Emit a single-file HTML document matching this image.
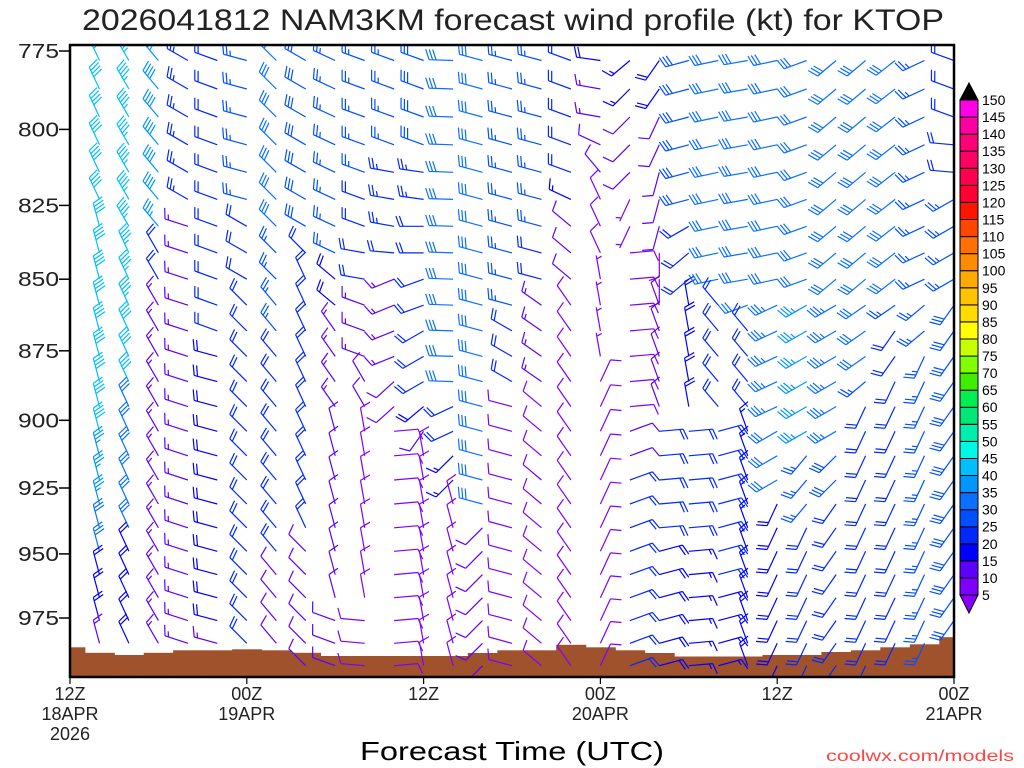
<!DOCTYPE html>
<html><head><meta charset="utf-8"><title>NAM3KM wind profile KTOP</title>
<style>
html,body{margin:0;padding:0;background:#fff;}
svg{display:block;font-family:"Liberation Sans",sans-serif;}
</style></head>
<body>
<svg id="chart" width="1024" height="768" viewBox="0 0 1024 768" xmlns="http://www.w3.org/2000/svg">
<defs><clipPath id="plotclip"><rect x="70" y="45" width="884" height="632"/></clipPath></defs>
<text x="82" y="30" font-size="30" textLength="862" lengthAdjust="spacingAndGlyphs" fill="#222">2026041812 NAM3KM forecast wind profile (kt) for KTOP</text>
<g id="ground" clip-path="url(#plotclip)"></g>
<g id="barbs" clip-path="url(#plotclip)"></g>
<rect x="70" y="45" width="884" height="632" fill="none" stroke="#000" stroke-width="2.5"/>
<g id="yaxis"></g>
<g id="xaxis"></g>
<text x="360" y="760" font-size="26" textLength="304" lengthAdjust="spacingAndGlyphs" fill="#000">Forecast Time (UTC)</text>
<text x="826" y="761" font-size="16" textLength="188" lengthAdjust="spacingAndGlyphs" fill="#ff4444">coolwx.com/models</text>
<g id="colorbar"></g>
</svg>
<script>
// forecast hours (every 2h from 12Z 18APR)
const times = [0,2,4,6,8,10,12,14,16,18,20,22,24,26,28,30,32,34,36,38,40,42,44,46,48,50,52,54,56,58,60];
const levels = [778,787,796,805,814,823,832,841,850,859,868,877,886,895,904,913,922,931,940,949,958,967,976,985,994];
const pressureTicks = [775,800,825,850,875,900,925,950,975];
const timeTickHours = [0,12,24,36,48,60];
const timeTickLabels = [["12Z","18APR","2026"],["00Z","19APR"],["12Z"],["00Z","20APR"],["12Z"],["00Z","21APR"]];
const surfacePressure = [986.6,988.8,989.7,988.8,987.8,987.8,987.4,987.8,988.8,990.1,990.1,990.1,990.1,990.1,988.9,987.8,987.8,985.6,986.6,987.8,988.9,990.3,990.3,990.3,989.7,989.7,988.5,987.8,986.6,985.4,982.6];
const colorLevels = [5,10,15,20,25,30,35,40,45,50,55,60,65,70,75,80,85,90,95,100,105,110,115,120,125,130,135,140,145,150];
const colorFills = ["#7f00ff","#5f00ff","#0000ff","#0028ff","#0050ff","#0a70ff","#0096ff","#00bfff","#00f8e6","#00eeb0","#00e87a","#00ee50","#40ee00","#80ff00","#c8ff00","#ffff00","#ffdc00","#ffc400","#ffaa00","#ff8c00","#ff7000","#ff4600","#ff1400","#ff0032","#ff0050","#ff0064","#ff0078","#ff00a0","#ff00e6"];

// wind direction (deg) per column (time), rows top->bottom by level
const windDir = [
[330,330,330,330,330,330,330,330,330,330,330,330,330,330,330,330,330,330,330,330,330,330,330,330,330],
[335,335,335,335,335,335,345,345,345,345,345,345,345,345,345,345,345,345,345,345,345,345,345,345,345],
[330,330,330,330,330,330,330,335,335,335,335,335,335,335,335,335,335,335,335,335,335,335,335,335,335],
[320,320,320,320,320,320,320,330,330,330,330,330,330,330,330,330,330,330,330,330,330,330,330,330,330],
[300,300,300,300,300,300,288,288,288,288,288,288,288,288,288,288,288,288,288,288,288,288,288,288,288],
[290,290,290,290,290,290,290,290,290,290,290,285,285,285,285,285,285,285,285,285,285,285,285,285,285],
[285,285,285,285,285,285,300,300,300,315,315,315,315,315,315,315,315,315,315,315,315,315,315,315,315],
[315,315,315,315,315,315,315,315,315,320,320,320,320,320,320,320,320,320,320,320,320,320,320,320,320],
[300,300,300,300,300,300,300,315,335,335,335,335,335,335,335,335,335,335,335,315,315,315,315,315,315],
[295,295,295,295,295,295,295,295,310,310,325,325,325,325,345,345,345,345,345,345,345,345,290,290,290],
[290,290,290,290,290,290,290,280,280,290,290,290,330,330,350,350,350,350,350,350,350,350,275,275,275],
[290,290,290,290,280,280,280,275,248,248,248,248,228,228,85,85,85,85,85,85,85,85,85,85,85],
[290,290,290,290,278,278,270,270,250,250,240,240,240,230,215,350,350,350,350,350,350,350,350,350,350],
[272,272,272,272,272,272,272,272,272,272,272,272,272,245,245,225,225,345,345,345,345,345,345,345,345],
[285,285,285,285,285,285,285,285,285,285,285,285,285,285,285,285,285,285,225,225,225,225,225,225,225],
[285,285,285,285,285,285,285,285,285,285,300,300,300,285,285,285,285,285,285,285,285,285,285,285,285],
[285,285,285,285,285,285,285,285,285,305,305,305,305,310,310,310,310,310,310,310,310,310,310,310,310],
[290,290,290,290,290,295,310,310,310,325,325,325,325,325,325,325,325,325,325,325,325,325,325,325,325],
[278,280,280,295,320,335,335,335,350,350,350,350,25,25,25,25,25,25,25,25,25,25,25,25,25],
[230,225,225,225,225,205,205,85,85,85,85,85,85,85,70,70,70,70,70,70,70,70,70,70,70],
[215,215,205,205,195,195,195,180,180,340,340,340,340,340,85,85,85,85,85,75,75,75,75,75,75],
[255,255,255,255,255,255,240,230,230,350,350,350,350,350,85,85,85,85,85,85,85,85,85,85,85],
[258,258,258,258,258,258,258,258,258,320,320,320,320,320,75,75,75,75,75,75,75,75,75,75,75],
[260,260,260,260,260,260,260,260,260,250,320,320,320,320,340,340,340,340,340,340,340,340,340,340,340],
[258,258,258,258,258,258,258,258,258,245,245,245,245,245,240,240,240,205,205,205,205,205,205,205,205],
[250,250,250,250,250,250,250,250,250,240,240,240,240,240,240,220,220,220,205,205,205,205,205,205,205],
[230,230,230,230,230,230,230,230,230,240,240,240,240,240,240,225,225,215,215,215,215,215,215,215,215],
[230,230,230,230,230,230,230,230,230,235,235,235,230,205,205,205,205,205,205,205,205,205,205,205,205],
[232,232,232,232,232,232,232,232,232,235,215,215,205,205,205,205,205,205,205,205,205,205,205,205,205],
[245,245,245,245,245,245,245,245,245,230,230,205,205,205,205,205,205,205,205,205,205,205,205,205,205],
[290,290,290,275,275,240,240,240,240,215,215,215,215,215,215,215,215,215,215,215,215,215,215,215,215]
];
// wind speed (kt)
const windSpd = [
[42,42,42,42,42,42,42,42,42,42,42,42,42,42,36,36,36,36,36,30,30,30,20,20,20],
[42,42,42,42,42,42,42,42,42,42,42,42,42,42,42,36,36,36,30,30,18,18,18,14,14],
[44,44,44,44,44,44,44,44,44,44,40,40,40,32,32,32,32,32,32,18,18,18,18,18,18],
[38,38,38,38,38,38,35,22,22,14,14,14,14,14,14,14,14,14,14,14,14,14,14,14,14],
[24,24,24,24,24,24,14,14,14,14,14,14,14,14,14,14,14,14,14,14,14,14,14,14,14],
[22,22,22,22,22,22,22,22,22,22,22,19,19,19,19,19,19,19,19,19,19,19,19,14,14],
[26,26,26,26,26,26,22,22,22,22,22,22,22,22,22,22,22,22,22,22,22,22,22,22,22],
[31,31,31,31,31,31,31,26,26,26,26,22,22,22,22,22,22,22,22,22,12,12,12,12,12],
[28,28,28,28,28,28,28,20,20,20,20,20,20,20,20,20,20,20,20,10,10,10,10,10,10],
[26,26,26,26,26,26,26,26,18,18,14,14,14,14,10,10,10,10,10,10,10,10,10,10,10],
[26,26,26,26,26,22,22,20,20,14,14,14,10,10,8,8,8,8,8,8,8,8,8,8,8],
[26,26,26,26,24,24,24,20,14,14,14,14,10,10,8,8,8,8,8,8,8,8,8,8,8],
[28,28,28,28,24,24,22,22,20,20,20,20,20,18,10,8,8,8,8,8,8,8,8,8,8],
[32,32,32,32,32,32,32,32,32,32,32,32,32,22,22,15,15,8,8,8,8,8,8,8,8],
[32,32,32,32,32,32,32,32,32,32,32,32,32,32,32,32,32,32,10,10,10,10,10,10,10],
[27,27,27,27,27,27,27,27,27,27,20,20,20,8,8,8,8,8,8,8,8,8,8,8,8],
[27,27,27,27,27,27,27,22,22,14,14,14,14,8,8,8,8,8,8,8,8,8,8,8,8],
[20,20,20,20,20,15,12,12,12,8,8,8,8,8,8,8,8,8,8,8,8,8,8,8,8],
[18,14,14,10,10,8,8,8,6,6,6,6,8,8,8,8,8,8,8,8,8,8,8,8,8],
[16,16,12,12,12,6,6,8,8,8,8,8,8,8,12,12,20,20,20,20,20,20,20,20,20],
[18,18,12,12,10,10,10,8,8,10,10,10,10,10,20,20,20,20,20,18,18,18,18,18,18],
[28,28,28,28,28,28,22,20,20,18,18,18,18,18,20,20,20,20,20,15,15,15,15,15,15],
[30,30,30,30,30,30,30,30,30,20,20,20,20,20,20,20,20,20,20,20,20,15,15,15,15],
[32,32,32,32,32,32,32,32,32,32,20,20,20,20,15,15,15,15,15,15,15,15,15,15,15],
[32,32,32,32,32,32,32,32,32,34,34,34,34,34,30,30,30,18,18,18,18,18,18,18,18],
[30,30,30,30,30,30,30,30,30,35,35,35,35,35,35,25,25,25,20,20,20,20,20,20,20],
[30,30,30,30,30,30,30,30,30,34,34,34,34,34,34,28,28,20,20,20,20,20,20,20,20],
[32,32,32,32,32,32,32,32,32,30,30,30,25,22,22,22,22,22,22,22,22,22,22,22,22],
[30,30,30,30,30,30,30,30,30,25,22,22,22,22,22,22,22,22,22,22,22,22,22,22,22],
[26,26,26,26,26,26,26,26,26,25,25,25,25,25,25,25,25,25,25,25,25,25,25,25,25],
[20,20,20,22,22,26,26,26,26,28,28,28,28,28,28,28,28,28,28,28,28,28,28,28,28]
];

const NS = "http://www.w3.org/2000/svg";
const X0 = 70, X1 = 954, Y0 = 45, Y1 = 677;
function xOf(h){ return X0 + (h - 0) / 60 * (X1 - X0); }
function yOf(p){ return 51 + 2470 * Math.log(p / 775); }
function colorFor(s){
  let idx = Math.floor((s - 5) / 5);
  if (idx < 0) idx = 0;
  if (idx > colorFills.length - 1) idx = colorFills.length - 1;
  return colorFills[idx];
}
function mk(tag, attrs, parent){
  const el = document.createElementNS(NS, tag);
  for (const k in attrs) el.setAttribute(k, attrs[k]);
  parent.appendChild(el);
  return el;
}

// ground
const gG = document.getElementById('ground');
const colW = (X1 - X0) / 30;
for (let i = 0; i < times.length; i++) {
  const cx = xOf(times[i]);
  const top = yOf(surfacePressure[i]);
  const r = mk('rect', {x: (cx - colW/2).toFixed(1), y: top.toFixed(1), width: (colW + 0.6).toFixed(1), height: (Y1 - top + 2).toFixed(1), fill: '#a0522d'}, gG);
  
  
}

// barbs
const bG = document.getElementById('barbs');
function drawBarb(sx, sy, dir, spd){
  const r = dir * Math.PI / 180;
  const ux = Math.sin(r), uy = -Math.cos(r);
  const px = -uy, py = ux;
  const L = 24, F = 11, sp = 3.5;
  const fx = px * 0.94 + ux * 0.34, fy = py * 0.94 + uy * 0.34;
  const ex = sx + L * ux, ey = sy + L * uy;
  let d = 'M' + sx.toFixed(1) + ' ' + sy.toFixed(1) + 'L' + ex.toFixed(1) + ' ' + ey.toFixed(1);
  let v = Math.round(spd / 5) * 5;
  let pos = 0;
  let fill = '';
  while (v >= 50) {
    const ax = ex - pos*ux, ay = ey - pos*uy;
    const bx = ex - (pos+5)*ux, by = ey - (pos+5)*uy;
    fill += 'M'+ax.toFixed(1)+' '+ay.toFixed(1)+'L'+(ax+F*px).toFixed(1)+' '+(ay+F*py).toFixed(1)+'L'+bx.toFixed(1)+' '+by.toFixed(1)+'Z';
    pos += 6; v -= 50;
  }
  while (v >= 10) {
    const ax = ex - pos*ux, ay = ey - pos*uy;
    d += 'M'+ax.toFixed(1)+' '+ay.toFixed(1)+'L'+(ax+F*fx).toFixed(1)+' '+(ay+F*fy).toFixed(1);
    pos += sp; v -= 10;
  }
  if (v >= 5) {
    if (pos === 0) pos = sp;
    const ax = ex - pos*ux, ay = ey - pos*uy;
    d += 'M'+ax.toFixed(1)+' '+ay.toFixed(1)+'L'+(ax+F*0.5*fx).toFixed(1)+' '+(ay+F*0.5*fy).toFixed(1);
  }
  const c = colorFor(spd);
  const p = mk('path', {d: d, stroke: c, 'stroke-width': 1.2, fill: 'none'}, bG);
  
  
  if (fill) {
    const q = mk('path', {d: fill, fill: c, stroke: 'none'}, bG);
    
    
  }
}
for (let i = 0; i < times.length; i++) {
  for (let k = 0; k < levels.length; k++) {
    const below = levels[k] >= surfacePressure[i];
    const overGround = (k === levels.length - 1 && i >= 8 && i <= 27);
    if (below && !overGround) continue;
    drawBarb(xOf(times[i]), yOf(levels[k]), windDir[i][k], windSpd[i][k]);
  }
}

// y axis
const yG = document.getElementById('yaxis');
pressureTicks.forEach(function(p){
  const y = yOf(p);
  const t = mk('line', {x1: 59, x2: 70, y1: y.toFixed(1), y2: y.toFixed(1), stroke: '#000', 'stroke-width': 1.5}, yG);
  
  
  const lb = mk('text', {x: 18, y: (y + 7).toFixed(1), 'font-size': 20, textLength: 41, lengthAdjust: 'spacingAndGlyphs', fill: '#222'}, yG);
  lb.textContent = String(p);
  
  
});

// x axis
const xG = document.getElementById('xaxis');
timeTickHours.forEach(function(h, i){
  const x = xOf(h);
  const t = mk('line', {x1: x.toFixed(1), x2: x.toFixed(1), y1: 677, y2: 684, stroke: '#000', 'stroke-width': 1.2}, xG);
  
  
  timeTickLabels[i].forEach(function(s, j){
    const lb = mk('text', {x: x.toFixed(1), y: 700 + j * 20, 'font-size': 18, 'text-anchor': 'middle', fill: '#222'}, xG);
    lb.textContent = s;
    
    
  });
});

// colorbar
const cG = document.getElementById('colorbar');
const cbTop = 100, cbBot = 595, cbX = 960, cbW = 18;
const boxH = (cbBot - cbTop) / colorFills.length;
colorFills.forEach(function(col, i){
  const y = cbBot - (i + 1) * boxH;
  const r = mk('rect', {x: cbX, y: y.toFixed(1), width: cbW, height: boxH.toFixed(1), fill: col, stroke: '#000', 'stroke-width': 1}, cG);
  
  
});
const tu = mk('polygon', {points: cbX+','+cbTop+' '+(cbX+cbW)+','+cbTop+' '+(cbX+cbW/2)+','+(cbTop-17), fill: '#000', stroke: '#000'}, cG);


const td = mk('polygon', {points: cbX+','+cbBot+' '+(cbX+cbW)+','+cbBot+' '+(cbX+cbW/2)+','+(cbBot+18), fill: '#8a00ff', stroke: '#000'}, cG);


colorLevels.forEach(function(v, i){
  const y = cbBot - i * boxH;
  const lb = mk('text', {x: 982, y: (y + 5).toFixed(1), 'font-size': 14, fill: '#000'}, cG);
  lb.textContent = String(v);
  
  
});
</script>
</body></html>
